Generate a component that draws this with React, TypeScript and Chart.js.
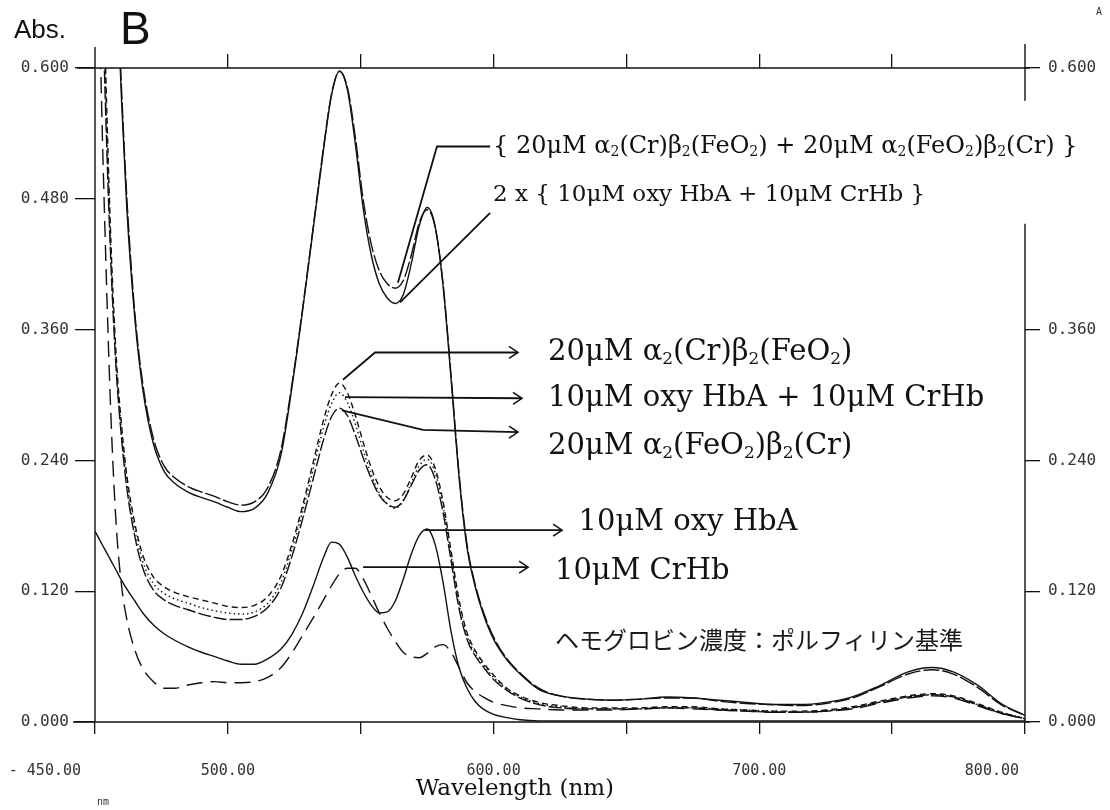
import React, { useEffect, useRef } from 'react';
import { Chart, registerables } from 'chart.js';

Chart.register(...registerables);

// Wavelength grid (nm) shared by every spectrum
const WAVELENGTH = [
  450, 452, 454, 456, 458, 460, 462, 465, 468, 472,
  476, 480, 485, 490, 495, 500, 505, 510, 515, 520,
  524, 528, 532, 536, 539, 542, 545, 548, 551, 554,
  557, 560, 563, 566, 569, 572, 575, 578, 581, 584,
  587, 590, 593, 596, 600, 605, 610, 617, 625, 635,
  645, 655, 665, 675, 685, 695, 705, 715, 725, 735,
  745, 756, 765, 773, 782, 791, 800,
];

// 2 x { 10uM oxy HbA + 10uM CrHb }
const SUM_2X_MIX = [
  1.3, 1.15, 1.0, 0.85, 0.69, 0.57, 0.47, 0.37, 0.305, 0.255,
  0.23, 0.219, 0.211, 0.206, 0.202, 0.197, 0.193, 0.196, 0.21, 0.245,
  0.305, 0.375, 0.45, 0.525, 0.575, 0.597, 0.58, 0.53, 0.47, 0.428,
  0.402, 0.389, 0.384, 0.392, 0.42, 0.455, 0.472, 0.455, 0.4, 0.315,
  0.225, 0.16, 0.125, 0.1, 0.076, 0.057, 0.044, 0.03, 0.024, 0.021,
  0.02, 0.021, 0.023, 0.022, 0.02, 0.018, 0.016, 0.016, 0.018, 0.023,
  0.033, 0.046, 0.05, 0.046, 0.034, 0.017, 0.006,
];

// { 20uM a2(Cr)b2(FeO2) + 20uM a2(FeO2)b2(Cr) }
const SUM_HYBRIDS = [
  1.3, 1.16, 1.01, 0.86, 0.7, 0.58, 0.48, 0.375, 0.31, 0.26,
  0.235, 0.224, 0.216, 0.211, 0.207, 0.202, 0.199, 0.202, 0.215, 0.25,
  0.308, 0.377, 0.452, 0.527, 0.576, 0.597, 0.582, 0.536, 0.478, 0.438,
  0.414, 0.402, 0.398, 0.405, 0.428, 0.458, 0.47, 0.454, 0.402, 0.318,
  0.228, 0.163, 0.127, 0.102, 0.078, 0.058, 0.045, 0.031, 0.024, 0.021,
  0.02, 0.021, 0.022, 0.022, 0.019, 0.017, 0.016, 0.015, 0.017, 0.022,
  0.032, 0.044, 0.048, 0.044, 0.032, 0.016, 0.006,
];

// 20uM a2(Cr)b2(FeO2)
const HYBRID_CR_FEO2 = [
  1.05, 0.8, 0.6, 0.44, 0.335, 0.272, 0.226, 0.182, 0.153, 0.133,
  0.124, 0.119, 0.115, 0.112, 0.109, 0.106, 0.105, 0.107, 0.115, 0.134,
  0.162, 0.197, 0.237, 0.277, 0.3, 0.311, 0.302, 0.281, 0.256, 0.233,
  0.216, 0.206, 0.203, 0.209, 0.224, 0.24, 0.245, 0.233, 0.202, 0.157,
  0.112, 0.082, 0.066, 0.055, 0.043, 0.031, 0.024, 0.018, 0.015, 0.013,
  0.013, 0.013, 0.014, 0.014, 0.012, 0.011, 0.01, 0.01, 0.011, 0.014,
  0.019, 0.024, 0.026, 0.024, 0.017, 0.009, 0.003,
];

// 10uM oxy HbA + 10uM CrHb
const MIX_OXY_CR = [
  1.0, 0.77, 0.58, 0.43, 0.328, 0.266, 0.22, 0.176, 0.147, 0.127,
  0.118, 0.113, 0.109, 0.105, 0.102, 0.1, 0.099, 0.101, 0.109, 0.128,
  0.157, 0.192, 0.231, 0.27, 0.292, 0.302, 0.293, 0.273, 0.249, 0.227,
  0.21, 0.2, 0.196, 0.203, 0.219, 0.235, 0.241, 0.229, 0.198, 0.153,
  0.108, 0.079, 0.063, 0.053, 0.041, 0.03, 0.023, 0.017, 0.014, 0.012,
  0.012, 0.012, 0.013, 0.013, 0.012, 0.011, 0.01, 0.009, 0.01, 0.013,
  0.018, 0.023, 0.025, 0.023, 0.016, 0.009, 0.003,
];

// 20uM a2(FeO2)b2(Cr)
const HYBRID_FEO2_CR = [
  0.95, 0.74, 0.56, 0.42, 0.322, 0.26, 0.214, 0.17, 0.141, 0.121,
  0.112, 0.107, 0.103, 0.099, 0.096, 0.094, 0.094, 0.097, 0.105, 0.123,
  0.151, 0.185, 0.222, 0.259, 0.28, 0.288, 0.281, 0.263, 0.242, 0.223,
  0.208, 0.2, 0.197, 0.203, 0.217, 0.231, 0.236, 0.223, 0.192, 0.148,
  0.104, 0.076, 0.061, 0.051, 0.039, 0.029, 0.022, 0.016, 0.013, 0.012,
  0.012, 0.012, 0.013, 0.013, 0.011, 0.01, 0.009, 0.009, 0.01, 0.013,
  0.018, 0.023, 0.025, 0.023, 0.016, 0.008, 0.003,
];

// 10uM oxy HbA
const OXY_HBA = [
  0.175, 0.166, 0.157, 0.148, 0.139, 0.13, 0.122, 0.111, 0.1, 0.089,
  0.081, 0.075, 0.069, 0.064, 0.06, 0.056, 0.053, 0.053, 0.058, 0.067,
  0.08, 0.099, 0.124, 0.151, 0.165, 0.163, 0.151, 0.134, 0.119, 0.107,
  0.1, 0.101, 0.111, 0.131, 0.154, 0.171, 0.177, 0.163, 0.128, 0.083,
  0.05, 0.031, 0.019, 0.012, 0.007, 0.004, 0.002, 0.001, 0.001, 0.001,
  0.001, 0.001, 0.001, 0.001, 0.001, 0.001, 0.001, 0.001, 0.001, 0.001,
  0.001, 0.001, 0.001, 0.001, 0.001, 0.001, 0.001,
];

// 10uM CrHb
const CR_HB = [
  0.9, 0.62, 0.43, 0.28, 0.18, 0.125, 0.094, 0.066, 0.049, 0.037,
  0.031, 0.031, 0.034, 0.036, 0.037, 0.036, 0.036, 0.037, 0.041, 0.05,
  0.063, 0.079, 0.095, 0.112, 0.125, 0.136, 0.141, 0.141, 0.131, 0.116,
  0.1, 0.086, 0.074, 0.064, 0.06, 0.059, 0.063, 0.069, 0.071, 0.064,
  0.05, 0.036, 0.028, 0.023, 0.018, 0.015, 0.013, 0.012, 0.011, 0.011,
  0.011, 0.012, 0.013, 0.012, 0.011, 0.01, 0.009, 0.009, 0.01, 0.012,
  0.017, 0.022, 0.024, 0.022, 0.015, 0.008, 0.003,
];

const X_TICKS = [450, 500, 550, 600, 650, 700, 750, 800];
const X_TICK_LABELS = ['- 450.00', '500.00', '', '600.00', '', '700.00', '', '800.00'];
const Y_TICKS = [0, 0.12, 0.24, 0.36, 0.48, 0.6];
const Y_TICK_LABELS = ['0.000', '0.120', '0.240', '0.360', '0.480', '0.600'];
const Y_RIGHT_TICK_LABELS = ['0.000', '0.120', '0.240', '0.360', '', '0.600'];

const SERIES = [
  { label: '2 x { 10μM oxy HbA + 10μM CrHb }', values: SUM_2X_MIX, dash: [] as number[] },
  { label: '{ 20μM α2(Cr)β2(FeO2) + 20μM α2(FeO2)β2(Cr) }', values: SUM_HYBRIDS, dash: [16, 3] },
  { label: '20μM α2(Cr)β2(FeO2)', values: HYBRID_CR_FEO2, dash: [6, 4] },
  { label: '10μM oxy HbA + 10μM CrHb', values: MIX_OXY_CR, dash: [1.5, 3] },
  { label: '20μM α2(FeO2)β2(Cr)', values: HYBRID_FEO2_CR, dash: [13, 3] },
  { label: '10μM oxy HbA', values: OXY_HBA, dash: [] as number[] },
  { label: '10μM CrHb', values: CR_HB, dash: [16, 8] },
];

// Callouts: leader path and text anchor, in (nm, Abs) units
type Note = { text: string; path: [number, number][]; arrow: boolean; at: [number, number]; size: number };
const NOTES: Note[] = [
  { text: '{ 20μM α_2(Cr)β_2(FeO_2) + 20μM α_2(FeO_2)β_2(Cr) }', path: [[564.0, 0.403], [578.7, 0.528], [598.7, 0.528]], arrow: false, at: [599.8, 0.528], size: 24 },
  { text: '2 x { 10μM oxy HbA + 10μM CrHb }', path: [[564.8, 0.385], [598.7, 0.467]], arrow: false, at: [599.8, 0.483], size: 23 },
  { text: '20μM α_2(Cr)β_2(FeO_2)', path: [[543.3, 0.314], [555.4, 0.339], [609.2, 0.339]], arrow: true, at: [620.5, 0.339], size: 29 },
  { text: '10μM oxy HbA + 10μM CrHb', path: [[544.1, 0.298], [610.7, 0.297]], arrow: true, at: [620.5, 0.297], size: 29 },
  { text: '20μM α_2(FeO_2)β_2(Cr)', path: [[543.0, 0.286], [573.4, 0.268], [609.2, 0.266]], arrow: true, at: [620.5, 0.253], size: 29 },
  { text: '10μM oxy HbA', path: [[574.2, 0.176], [625.8, 0.176]], arrow: true, at: [632.0, 0.183], size: 29 },
  { text: '10μM CrHb', path: [[550.9, 0.142], [613.0, 0.142]], arrow: true, at: [623.1, 0.138], size: 29 },
];
const BASIS_NOTE = 'ヘモグロビン濃度：ポルフィリン基準';
const BASIS_AT: [number, number] = [623.1, 0.075];

const SERIF = '"DejaVu Serif", "Liberation Serif", serif';
const MONO = '"DejaVu Sans Mono", "Liberation Mono", monospace';
const INK = '#111';

// Text where "_x" renders x as a subscript
function drawRich(ctx: CanvasRenderingContext2D, text: string, x: number, y: number, size: number) {
  let cx = x;
  let i = 0;
  while (i < text.length) {
    if (text[i] === '_' && i + 1 < text.length) {
      ctx.font = `${Math.round(size * 0.6)}px ${SERIF}`;
      ctx.fillText(text[i + 1], cx, y + size * 0.26);
      cx += ctx.measureText(text[i + 1]).width;
      i += 2;
    } else {
      let j = i;
      while (j < text.length && text[j] !== '_') j++;
      const run = text.slice(i, j);
      ctx.font = `${size}px ${SERIF}`;
      ctx.fillText(run, cx, y);
      cx += ctx.measureText(run).width;
      i = j;
    }
  }
}

const decorPlugin = {
  id: 'spectrumDecor',
  beforeDraw(chart: any) {
    const { ctx } = chart;
    ctx.save();
    ctx.fillStyle = '#fff';
    ctx.fillRect(0, 0, chart.width, chart.height);
    ctx.restore();
  },
  afterDraw(chart: any) {
    const { ctx, chartArea } = chart;
    const xs = chart.scales.x;
    const ys = chart.scales.y;
    const px = (v: number) => xs.getPixelForValue(v);
    const py = (v: number) => ys.getPixelForValue(v);
    const { left, right, top, bottom } = chartArea;

    ctx.save();
    // frame lines
    ctx.strokeStyle = INK;
    ctx.lineWidth = 1.4;
    ctx.beginPath();
    ctx.moveTo(left, top - 21); ctx.lineTo(left, bottom);
    ctx.moveTo(left - 18, top); ctx.lineTo(right + 5, top);
    ctx.moveTo(left - 22, bottom); ctx.lineTo(right + 5, bottom);
    ctx.moveTo(right, top - 24); ctx.lineTo(right, py(0.57));
    ctx.moveTo(right, py(0.457)); ctx.lineTo(right, bottom);
    ctx.stroke();

    // x tick labels
    ctx.fillStyle = '#333';
    ctx.font = `15px ${MONO}`;
    ctx.textBaseline = 'middle';
    X_TICKS.forEach((v, i) => {
      const t = X_TICK_LABELS[i];
      if (!t) return;
      const x = px(v);
      const yl = bottom + 49;
      if (i === 0) { ctx.textAlign = 'right'; ctx.fillText(t, x - 14, yl); }
      else if (i === X_TICKS.length - 1) { ctx.textAlign = 'right'; ctx.fillText(t, x - 6, yl); }
      else { ctx.textAlign = 'center'; ctx.fillText(t, x, yl); }
    });
    ctx.textAlign = 'left';
    ctx.font = `10px ${MONO}`;
    ctx.fillText('nm', px(450) + 2, bottom + 80);
    ctx.fillText('A', chart.width - 14, 12);

    // axis titles
    ctx.fillStyle = INK;
    ctx.font = `23px ${SERIF}`;
    ctx.textAlign = 'center';
    ctx.fillText('Wavelength (nm)', px(608), bottom + 67);
    ctx.textAlign = 'left';
    ctx.font = `26px "Liberation Sans", Arial, sans-serif`;
    ctx.fillText('Abs.', 14, 31);
    ctx.font = `46px "Liberation Sans", Arial, sans-serif`;
    ctx.fillText('B', 120, 31);

    // callouts
    ctx.strokeStyle = INK;
    ctx.lineWidth = 1.8;
    NOTES.forEach((n) => {
      ctx.beginPath();
      n.path.forEach(([wx, wy], k) => {
        if (k === 0) ctx.moveTo(px(wx), py(wy));
        else ctx.lineTo(px(wx), py(wy));
      });
      ctx.stroke();
      if (n.arrow) {
        const [ex, ey] = n.path[n.path.length - 1];
        const ax = px(ex), ay = py(ey);
        ctx.lineWidth = 1.5;
        ctx.beginPath();
        ctx.moveTo(ax - 9, ay - 6); ctx.lineTo(ax, ay); ctx.lineTo(ax - 9, ay + 6);
        ctx.stroke();
        ctx.lineWidth = 1.8;
      }
      ctx.fillStyle = INK;
      ctx.textBaseline = 'middle';
      ctx.textAlign = 'left';
      drawRich(ctx, n.text, px(n.at[0]), py(n.at[1]), n.size);
    });

    ctx.font = `24px "Noto Sans CJK JP", sans-serif`;
    ctx.fillStyle = '#1a1a1a';
    ctx.fillText(BASIS_NOTE, px(BASIS_AT[0]), py(BASIS_AT[1]));
    ctx.restore();
  },
};

const tickGrid = (len: number) => ({
  display: true,
  drawOnChartArea: false,
  drawTicks: true,
  tickLength: len,
  color: INK,
  lineWidth: 1.3,
});

export default function App() {
  const ref = useRef<HTMLCanvasElement>(null);

  useEffect(() => {
    document.body.style.margin = '0';
    const canvas = ref.current;
    if (!canvas) return;
    const chart = new Chart(canvas, {
      type: 'line',
      data: {
        datasets: SERIES.map((s) => ({
          label: s.label,
          data: WAVELENGTH.map((w, i) => ({ x: w, y: s.values[i] })),
          borderColor: INK,
          borderWidth: 1.4,
          borderDash: s.dash,
          pointRadius: 0,
          fill: false,
          cubicInterpolationMode: 'monotone' as const,
          xAxisID: 'x',
          yAxisID: 'y',
        })),
      },
      options: {
        responsive: false,
        animation: false,
        events: [],
        layout: { padding: 0 },
        plugins: { legend: { display: false }, tooltip: { enabled: false } },
        scales: {
          x: {
            type: 'linear',
            position: 'bottom',
            min: 450,
            max: 800,
            afterBuildTicks: (s: any) => { s.ticks = X_TICKS.map((v) => ({ value: v })); },
            afterFit: (s: any) => { s.height = 88; },
            grid: tickGrid(12),
            border: { display: false },
            ticks: { display: false },
          },
          xTop: {
            type: 'linear',
            position: 'top',
            min: 450,
            max: 800,
            afterBuildTicks: (s: any) => { s.ticks = X_TICKS.slice(1, -1).map((v) => ({ value: v })); },
            afterFit: (s: any) => { s.height = 68; },
            grid: tickGrid(14),
            border: { display: false },
            ticks: { display: false },
          },
          y: {
            type: 'linear',
            position: 'left',
            min: 0,
            max: 0.6,
            afterBuildTicks: (s: any) => { s.ticks = Y_TICKS.map((v) => ({ value: v })); },
            afterFit: (s: any) => { s.width = 95; },
            grid: tickGrid(20),
            border: { display: false },
            ticks: {
              padding: 6,
              color: '#333',
              font: { family: MONO, size: 16 },
              callback: (_v: any, i: number) => Y_TICK_LABELS[i],
            },
          },
          yRight: {
            type: 'linear',
            position: 'right',
            min: 0,
            max: 0.6,
            afterBuildTicks: (s: any) => { s.ticks = Y_TICKS.map((v) => ({ value: v })); },
            afterFit: (s: any) => { s.width = 85; },
            grid: {
              ...tickGrid(15),
              color: (c: any) => (c.tick && Y_RIGHT_TICK_LABELS[Y_TICKS.indexOf(c.tick.value)] === '' ? 'rgba(0,0,0,0)' : INK),
            },
            border: { display: false },
            ticks: {
              padding: 8,
              color: '#333',
              font: { family: MONO, size: 16 },
              callback: (_v: any, i: number) => Y_RIGHT_TICK_LABELS[i],
            },
          },
        },
      },
      plugins: [decorPlugin],
    } as any);
    return () => chart.destroy();
  }, []);

  return (
    <div style={{ width: 1110, height: 810, background: '#fff' }}>
      <canvas ref={ref} width={1110} height={810} style={{ display: 'block' }} />
    </div>
  );
}
